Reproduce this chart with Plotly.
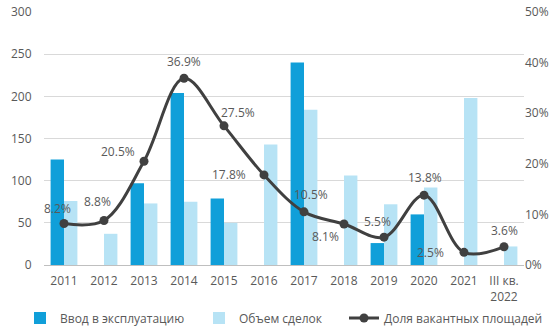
import plotly.graph_objects as go

categories = ["2011", "2012", "2013", "2014", "2015", "2016", "2017", "2018", "2019", "2020", "2021", "III кв.<br>2022"]
commissioning = [125, 0, 97, 204, 79, 0, 240, 0, 26, 60, 0, 0]
deals = [76, 37, 73, 75, 50, 143, 184, 106, 72, 92, 198, 22]
vacancy = [0.082, 0.088, 0.205, 0.369, 0.275, 0.178, 0.105, 0.081, 0.055, 0.138, 0.025, 0.036]
vacancy_labels = ["8.2%", "8.8%", "20.5%", "36.9%", "27.5%", "17.8%", "10.5%", "8.1%", "5.5%", "13.8%", "2.5%", "3.6%"]

# label offsets (px) relative to each point
label_dx = [-7, -7, -26, 0, 14, -35, 7, -19, -7, 1, -34, 0]
label_dy = [15, 19, 10, 17, 13, 0, 17, -12, 16, 18, 0, 16]

FONT = "Open Sans, Noto Sans, sans-serif"
TXT = "#595959"
W, H = 558, 327

pos = list(range(len(categories)))

fig = go.Figure()
fig.add_trace(go.Bar(x=pos, y=commissioning, name="Ввод в эксплуатацию", legend="legend",
                     marker=dict(color="#109FD9", line=dict(width=0))))
fig.add_trace(go.Bar(x=pos, y=deals, name="Объем сделок", legend="legend2",
                     marker=dict(color="#B7E3F5", line=dict(width=0))))
fig.add_trace(go.Scatter(x=pos, y=vacancy, name="Доля вакантных площадей", yaxis="y2",
                         legend="legend3", mode="lines+markers",
                         line=dict(color="#404040", width=3, shape="spline", smoothing=1.0),
                         marker=dict(color="#404040", size=9)))

for p, v, t, dx, dy in zip(pos, vacancy, vacancy_labels, label_dx, label_dy):
    fig.add_annotation(x=p, y=v, xref="x", yref="y2", text=t, showarrow=False,
                       xshift=dx, yshift=dy, font=dict(family=FONT, size=12, color=TXT))

def leg(xpx):
    return dict(orientation="h", xref="container", yref="container",
                x=xpx / W, xanchor="left", y=(H - 318) / H, yanchor="middle",
                bgcolor="rgba(0,0,0,0)", borderwidth=0,
                font=dict(family=FONT, size=12, color=TXT))

fig.update_layout(
    width=W, height=H,
    margin=dict(l=44, r=34, t=12, b=62, autoexpand=False),
    paper_bgcolor="white", plot_bgcolor="white",
    font=dict(family=FONT, size=12, color=TXT),
    barmode="group", bargap=0.33, bargroupgap=0,
    showlegend=True,
    legend=leg(20),
    legend2=leg(199),
    legend3=leg(344),
    xaxis=dict(range=[-0.5, len(categories) - 0.5], tickvals=pos, ticktext=categories,
               showgrid=False, showline=True, linecolor="#BFBFBF", zeroline=False,
               automargin=False, ticks="outside", ticklen=5, tickcolor="rgba(0,0,0,0)",
               tickfont=dict(size=12, color=TXT)),
    yaxis=dict(range=[0, 300], dtick=50, showgrid=True, gridcolor="#D9D9D9",
               zeroline=False, automargin=False, ticks="outside", ticklen=9,
               tickcolor="rgba(0,0,0,0)", tickfont=dict(size=12, color=TXT)),
    yaxis2=dict(range=[0, 0.5], dtick=0.1, tickformat=".0%", overlaying="y", side="right",
                showgrid=False, zeroline=False, automargin=False, ticks="",
                tickfont=dict(size=12, color=TXT)),
)

fig.write_html("out.html")
